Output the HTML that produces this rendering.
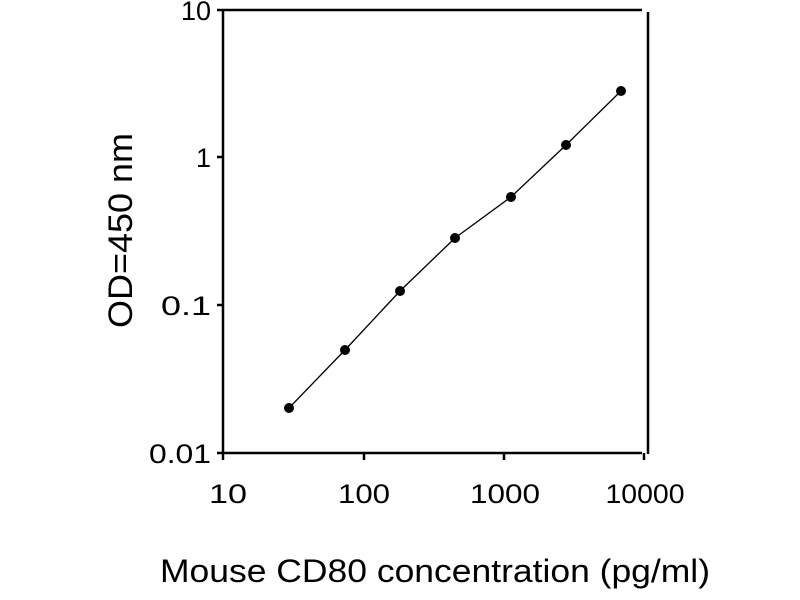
<!DOCTYPE html>
<html><head><style>body{margin:0;background:#fff}svg{display:block}</style></head><body>
<svg width="800" height="600" xmlns="http://www.w3.org/2000/svg" font-family="Liberation Sans, sans-serif">
<rect width="800" height="600" fill="#fff"/>
<g stroke="#000" stroke-width="2.5" fill="none">
<line x1="223" y1="10" x2="642" y2="10"/>
<line x1="223" y1="9" x2="223" y2="454"/>
<line x1="223" y1="453" x2="642" y2="453"/>
<line x1="648" y1="12" x2="648" y2="454"/>
<line x1="217" y1="10" x2="223" y2="10"/>
<line x1="217" y1="157" x2="223" y2="157"/>
<line x1="217" y1="305" x2="223" y2="305"/>
<line x1="217" y1="453" x2="223" y2="453"/>
<line x1="223" y1="453" x2="223" y2="460"/>
<line x1="364" y1="453" x2="364" y2="460"/>
<line x1="504" y1="453" x2="504" y2="460"/>
<line x1="644" y1="453" x2="644" y2="460"/>
</g>
<polyline points="289,408 345,350 400,291 455,238 511,197 566,145 621,91" fill="none" stroke="#000" stroke-width="1.3"/>
<g fill="#000">
<circle cx="289" cy="408" r="5"/><circle cx="345" cy="350" r="5"/><circle cx="400" cy="291" r="5"/><circle cx="455" cy="238" r="5"/><circle cx="511" cy="197" r="5"/><circle cx="566" cy="145" r="5"/><circle cx="621" cy="91" r="5"/>
</g>
<g font-size="27" fill="#000" text-anchor="end">
<text x="211" y="20">10</text>
<text x="211" y="167">1</text>
<text x="211" y="315" textLength="50" lengthAdjust="spacingAndGlyphs">0.1</text>
<text x="211" y="463" textLength="62" lengthAdjust="spacingAndGlyphs">0.01</text>
</g>
<g font-size="27" fill="#000" text-anchor="middle">
<text x="228" y="503" textLength="38" lengthAdjust="spacingAndGlyphs">10</text>
<text x="364" y="503" textLength="52" lengthAdjust="spacingAndGlyphs">100</text>
<text x="505" y="503" textLength="70" lengthAdjust="spacingAndGlyphs">1000</text>
<text x="645" y="503" textLength="79" lengthAdjust="spacingAndGlyphs">10000</text>
</g>
<text x="160" y="582" font-size="32" fill="#000" textLength="550" lengthAdjust="spacingAndGlyphs">Mouse CD80 concentration (pg/ml)</text>
<text transform="translate(132,328) rotate(-90)" font-size="34" fill="#000" textLength="195" lengthAdjust="spacingAndGlyphs">OD=450 nm</text>
</svg>
</body></html>
